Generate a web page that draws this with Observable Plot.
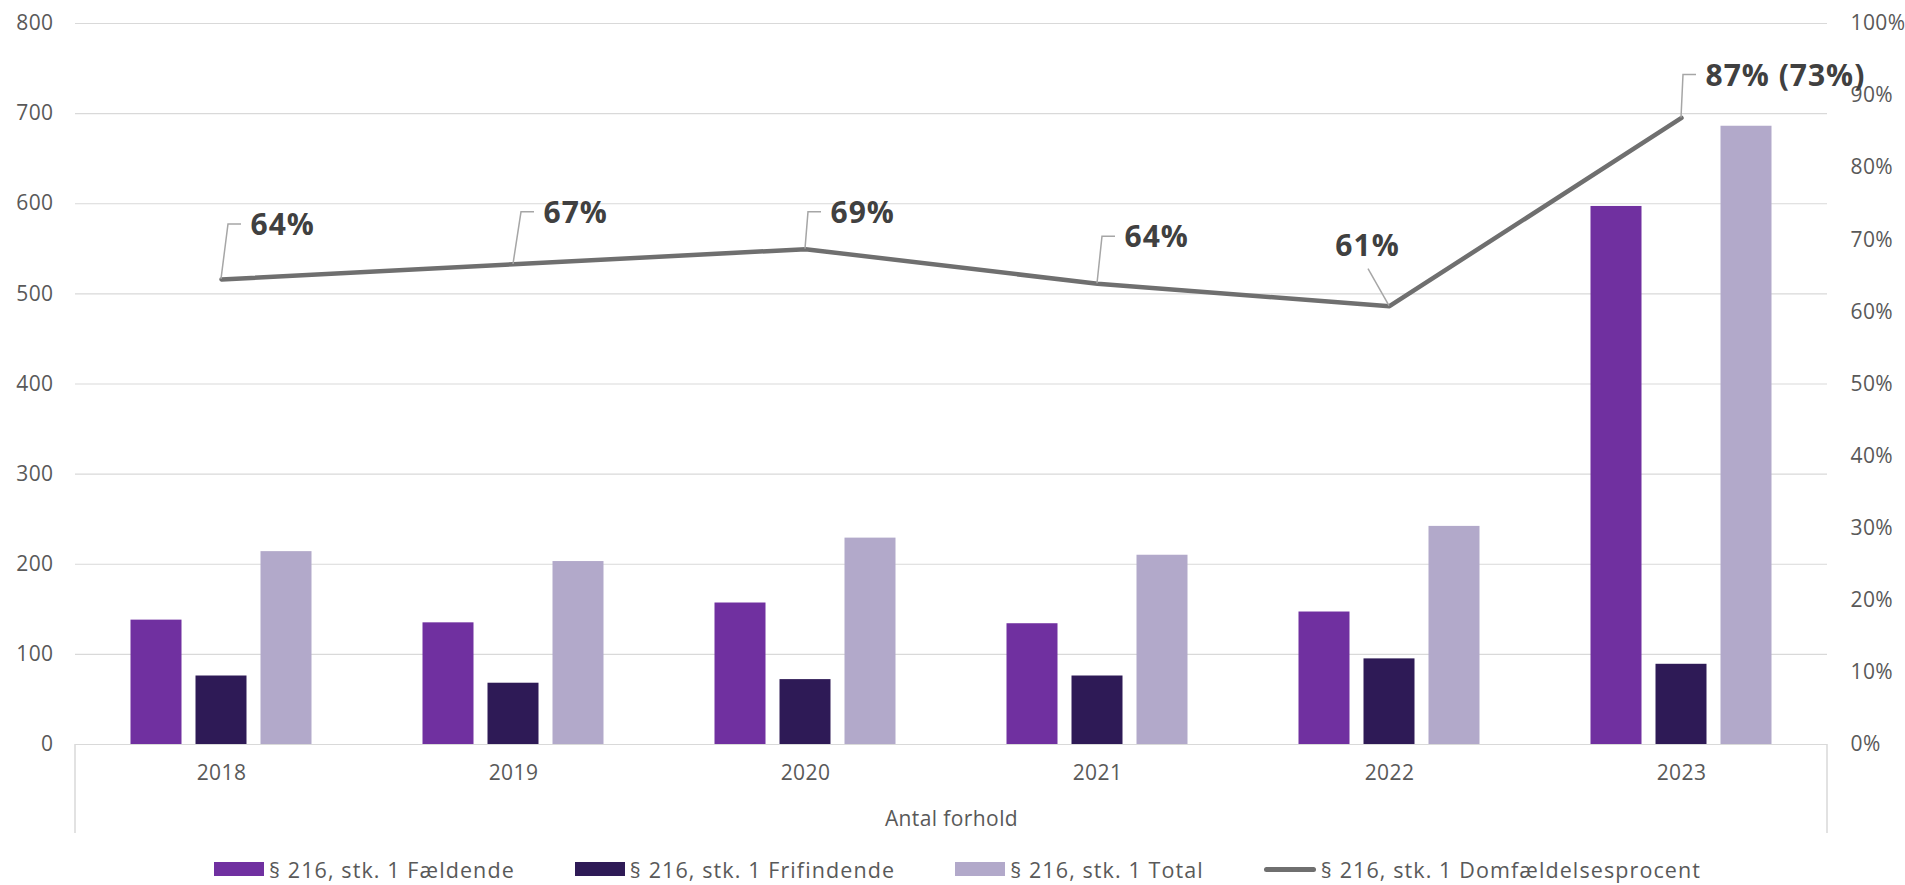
<!DOCTYPE html>
<html>
<head>
<meta charset="utf-8">
<script src="https://cdn.jsdelivr.net/npm/d3@7"></script>
<script src="https://cdn.jsdelivr.net/npm/@observablehq/plot@0.6"></script>
<style>
  html, body { margin: 0; padding: 0; background: #fff; }
  body { width: 1905px; height: 885px; overflow: hidden; font-family: "Open Sans", sans-serif; }
  #legend { display: flex; justify-content: center; align-items: center; gap: 60px; height: 40px; margin-top: 4px; margin-left: 10px; color: #595959; font-size: 21.5px; letter-spacing: 1.1px; }
  .item { display: flex; align-items: center; }
  .sw { width: 50px; height: 14px; margin-right: 5px; }
  .ln { width: 52px; height: 5px; border-radius: 3px; background: #6F6F6F; margin-right: 5px; }
</style>
</head>
<body>
<div id="chart"></div>
<div id="legend"></div>
<script>
const years = ["2018", "2019", "2020", "2021", "2022", "2023"];
const faeldende = [138, 135, 157, 134, 147, 597];
const frifindende = [76, 68, 72, 76, 95, 89];
const total = [214, 203, 229, 210, 242, 686];
const pct = [64.5, 66.6, 68.7, 63.9, 60.8, 86.9];
const pctLabels = ["64%", "67%", "69%", "64%", "61%", "87% (73%)"];
const seriesNames = ["§ 216, stk. 1 Fældende", "§ 216, stk. 1 Frifindende", "§ 216, stk. 1 Total", "§ 216, stk. 1 Domfældelsesprocent"];
const leftTicks = [0, 100, 200, 300, 400, 500, 600, 700, 800];
const rightTicks = [0, 10, 20, 30, 40, 50, 60, 70, 80, 90, 100];
const rightTickLabels = ["0%", "10%", "20%", "30%", "40%", "50%", "60%", "70%", "80%", "90%", "100%"];
const categoryTitle = "Antal forhold";

// layout / style (not data)
const colors = ["#7030A0", "#2E1A56", "#B2A9CA"];
const lineColor = "#6F6F6F";
const labelNudge = [[29, -54], [30, -51], [25, -36], [27, -46], [-22, -60], [24, -42]];
const pctToY = 8; // 100% on right axis = 800 on left axis

const rows = years.map((year, i) => ({
  year, faeldende: faeldende[i], frifindende: frifindende[i], total: total[i], pct: pct[i], label: pctLabels[i]
}));

const barW = 51, barStep = 65, band = 292;
const inset = (band - barW) / 2;

const marks = [
  Plot.gridY(leftTicks, {stroke: "#D9D9D9", strokeOpacity: 1, strokeWidth: 1.2}),
  Plot.axisY(leftTicks, {anchor: "left", tickSize: 0, tickPadding: 22, label: null, fontSize: 21, fill: "#595959"}),
  Plot.axisY(rightTicks.map(p => p * pctToY), {anchor: "right", tickSize: 0, tickPadding: 23, label: null, fontSize: 21, fill: "#595959",
    tickFormat: d => rightTickLabels[rightTicks.indexOf(d / pctToY)]}),
  Plot.axisX({tickSize: 0, tickPadding: 21, label: null, fontSize: 21, fill: "#595959"}),
  Plot.barY(rows, {x: "year", y: "faeldende", fill: colors[0], dx: -barStep, insetLeft: inset, insetRight: inset}),
  Plot.barY(rows, {x: "year", y: "frifindende", fill: colors[1], dx: 0, insetLeft: inset, insetRight: inset}),
  Plot.barY(rows, {x: "year", y: "total", fill: colors[2], dx: barStep, insetLeft: inset, insetRight: inset}),
  Plot.line(rows, {x: "year", y: d => d.pct * pctToY, stroke: lineColor, strokeWidth: 4.5, strokeLinecap: "round", strokeLinejoin: "round"}),
  ...rows.map((r, i) => Plot.text([r], {
    x: "year", y: d => d.pct * pctToY, text: "label",
    dx: labelNudge[i][0], dy: labelNudge[i][1],
    textAnchor: i === 4 ? "middle" : "start", lineAnchor: "middle",
    fontSize: 30, fontWeight: "bold", fill: "#404040"
  })),
  Plot.text([categoryTitle], {frameAnchor: "bottom", dy: 75, lineAnchor: "middle", fontSize: 21, fill: "#595959"})
];

const chart = Plot.plot({
  width: 1905,
  height: 845,
  marginLeft: 75,
  marginRight: 78,
  marginTop: 23,
  marginBottom: 101,
  x: {domain: years, padding: 0, axis: null},
  y: {domain: [0, 800], axis: null},
  style: {fontFamily: "Open Sans, sans-serif", color: "#595959", background: "#fff", overflow: "visible", letterSpacing: "0.4px"},
  marks
});

const svg = d3.select(chart);
svg.selectAll('g[font-weight="bold"]').attr("letter-spacing", "1px");

// leader lines and category separators, positioned through the plot's scales
const sx = chart.scale("x"), sy = chart.scale("y");
const g = svg.append("g").attr("fill", "none").attr("stroke", "#A6A6A6").attr("stroke-width", 1.5);
rows.forEach((r, i) => {
  const px = sx.apply(r.year) + sx.bandwidth / 2;
  const py = sy.apply(r.pct * pctToY);
  const [ndx, ndy] = labelNudge[i];
  if (i === 4) {
    g.append("path").attr("d", `M${px},${py} L${px + ndx + 1},${py + ndy + 23}`);
  } else {
    const lx = px + ndx, ly = py + ndy - 1;
    g.append("path").attr("d", `M${px},${py} L${lx - 22},${ly} L${lx - 9},${ly}`);
  }
});
const sepG = svg.append("g").attr("stroke", "#D9D9D9").attr("stroke-width", 1.5);
const y0 = sy.apply(0);
[sx.apply(years[0]), sx.apply(years[years.length - 1]) + sx.bandwidth].forEach(x => {
  sepG.append("line").attr("x1", x).attr("x2", x).attr("y1", y0).attr("y2", y0 + 89);
});

document.getElementById("chart").appendChild(chart);

const legend = d3.select("#legend");
seriesNames.forEach((name, i) => {
  const it = legend.append("div").attr("class", "item");
  if (i < 3) it.append("div").attr("class", "sw").style("background", colors[i]);
  else it.append("div").attr("class", "ln");
  it.append("span").text(name);
});
</script>
</body>
</html>
